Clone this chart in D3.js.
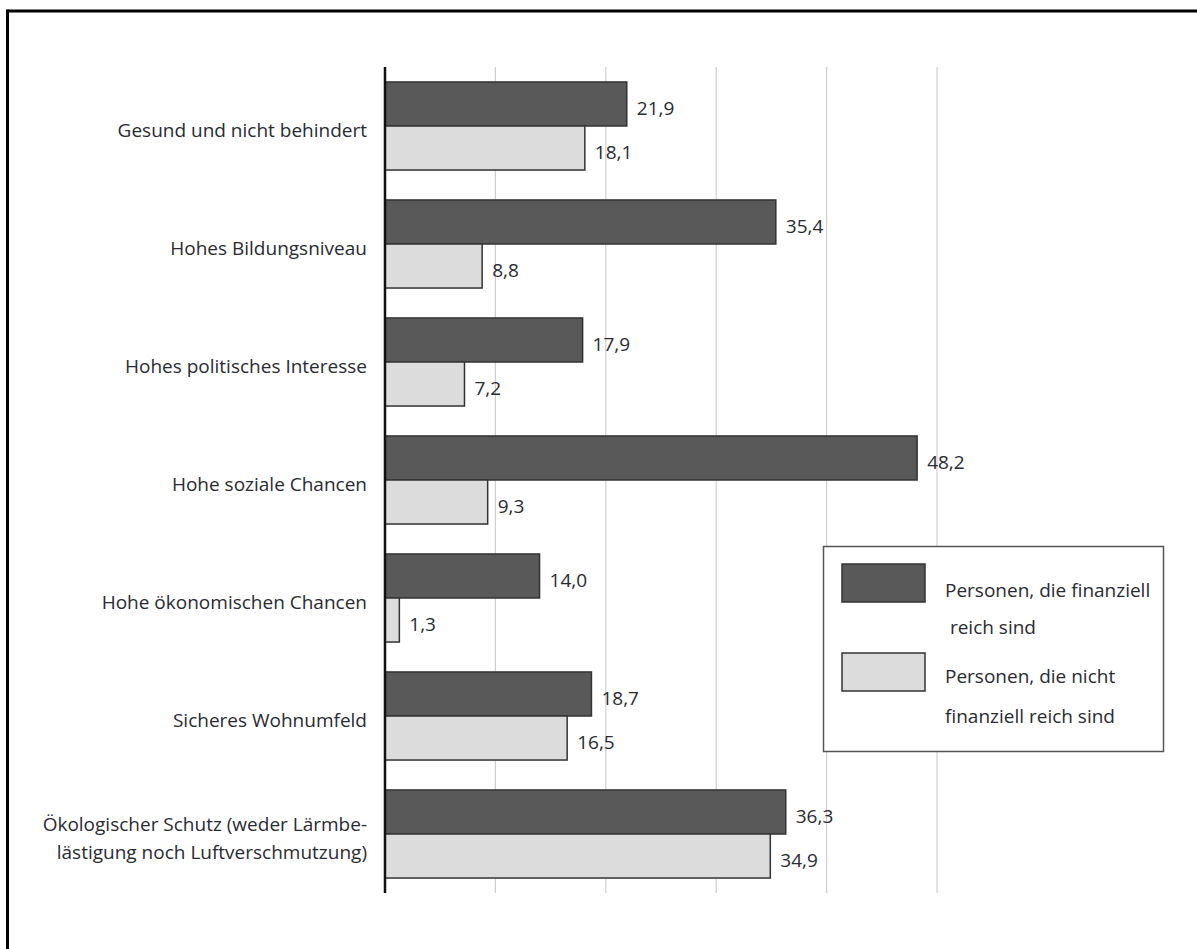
<!DOCTYPE html>
<html><head><meta charset="utf-8">
<script src="https://cdn.jsdelivr.net/npm/d3@7"></script>
<style>
html,body{margin:0;padding:0;background:#fff;}
text{font-family:"Open Sans",sans-serif;fill:#2a2a33;}
</style></head>
<body>
<svg id="chart" width="1197" height="949"></svg>
<script>
const categories = [
  ["Gesund und nicht behindert"],
  ["Hohes Bildungsniveau"],
  ["Hohes politisches Interesse"],
  ["Hohe soziale Chancen"],
  ["Hohe ökonomischen Chancen"],
  ["Sicheres Wohnumfeld"],
  ["Ökologischer Schutz (weder Lärmbe-", "lästigung noch Luftverschmutzung)"]
];
const seriesNames = ["reich", "nichtReich"];
const reichValues = [21.9, 35.4, 17.9, 48.2, 14.0, 18.7, 36.3];
const nichtReichValues = [18.1, 8.8, 7.2, 9.3, 1.3, 16.5, 34.9];
const xTicks = [0, 10, 20, 30, 40, 50];
const legendLabels = [["Personen, die finanziell", " reich sind"], ["Personen, die nicht", "finanziell reich sind"]];
const colors = {reich: "#595959", nichtReich: "#dcdcdc"};

const svg = d3.select("#chart");
const fmt = v => d3.format(".1f")(v).replace(".", ",");

// frame (top and left only)
svg.append("line").attr("x1", 7.5).attr("x2", 1197).attr("y1", 11).attr("y2", 11).attr("stroke", "#000").attr("stroke-width", 3);
svg.append("line").attr("x1", 7.5).attr("x2", 7.5).attr("y1", 9.5).attr("y2", 949).attr("stroke", "#000").attr("stroke-width", 3);

const x = d3.scaleLinear().domain([0, 50]).range([385, 937]);
const idx = d3.range(categories.length);
const y0 = d3.scaleBand().domain(idx).range([67, 893]).padding(0);
const y1 = d3.scaleBand().domain(seriesNames).range([0, y0.bandwidth()]).paddingInner(0).paddingOuter(0.34);

// gridlines
svg.append("g").selectAll("line").data(xTicks.slice(1)).join("line")
  .attr("x1", d => x(d)).attr("x2", d => x(d))
  .attr("y1", 67).attr("y2", 893)
  .attr("stroke", "#cfcfcf").attr("stroke-width", 1.2);

const rows = idx.map(i => ({i, vals: [{s: "reich", v: reichValues[i]}, {s: "nichtReich", v: nichtReichValues[i]}]}));

const g = svg.append("g").selectAll("g").data(rows).join("g")
  .attr("transform", d => `translate(0,${y0(d.i)})`);

g.selectAll("rect").data(d => d.vals).join("rect")
  .attr("x", x(0))
  .attr("y", d => y1(d.s))
  .attr("width", d => x(d.v) - x(0))
  .attr("height", y1.bandwidth())
  .attr("fill", d => colors[d.s])
  .attr("stroke", "#333")
  .attr("stroke-width", 1.5);

g.selectAll("text.val").data(d => d.vals).join("text")
  .attr("class", "val")
  .attr("x", d => x(d.v) + 10)
  .attr("y", d => y1(d.s) + y1.bandwidth() / 2 + 4)
  .attr("dy", "0.35em")
  .attr("font-size", 19)
  .text(d => fmt(d.v));

// category labels
g.each(function(d) {
  const lines = categories[d.i];
  const t = d3.select(this).append("text")
    .attr("text-anchor", "end")
    .attr("font-size", 19);
  const cy = y0.bandwidth() / 2 + 4;
  const lh = 28;
  lines.forEach((l, k) => {
    t.append("tspan").attr("x", 367)
      .attr("y", cy + (k - (lines.length - 1) / 2) * lh)
      .attr("dy", "0.35em")
      .text(l);
  });
});

// axis line
svg.append("line").attr("x1", x(0)).attr("x2", x(0)).attr("y1", 67).attr("y2", 893)
  .attr("stroke", "#111").attr("stroke-width", 2.5);

// legend
const lg = svg.append("g");
lg.append("rect").attr("x", 823.5).attr("y", 546.5).attr("width", 340).attr("height", 205)
  .attr("fill", "#fff").attr("stroke", "#555").attr("stroke-width", 1.5);
const lineOffsets = [[33, 70], [30, 70]];
seriesNames.forEach((s, k) => {
  const top = 564 + k * 89;
  lg.append("rect").attr("x", 842).attr("y", top).attr("width", 83).attr("height", 38)
    .attr("fill", colors[s]).attr("stroke", "#333").attr("stroke-width", 1.5);
  legendLabels[k].forEach((l, j) => {
    lg.append("text").attr("x", 945).attr("y", top + lineOffsets[k][j])
      .attr("font-size", 19).attr("xml:space", "preserve").style("white-space", "pre").text(l);
  });
});
</script>
</body></html>
